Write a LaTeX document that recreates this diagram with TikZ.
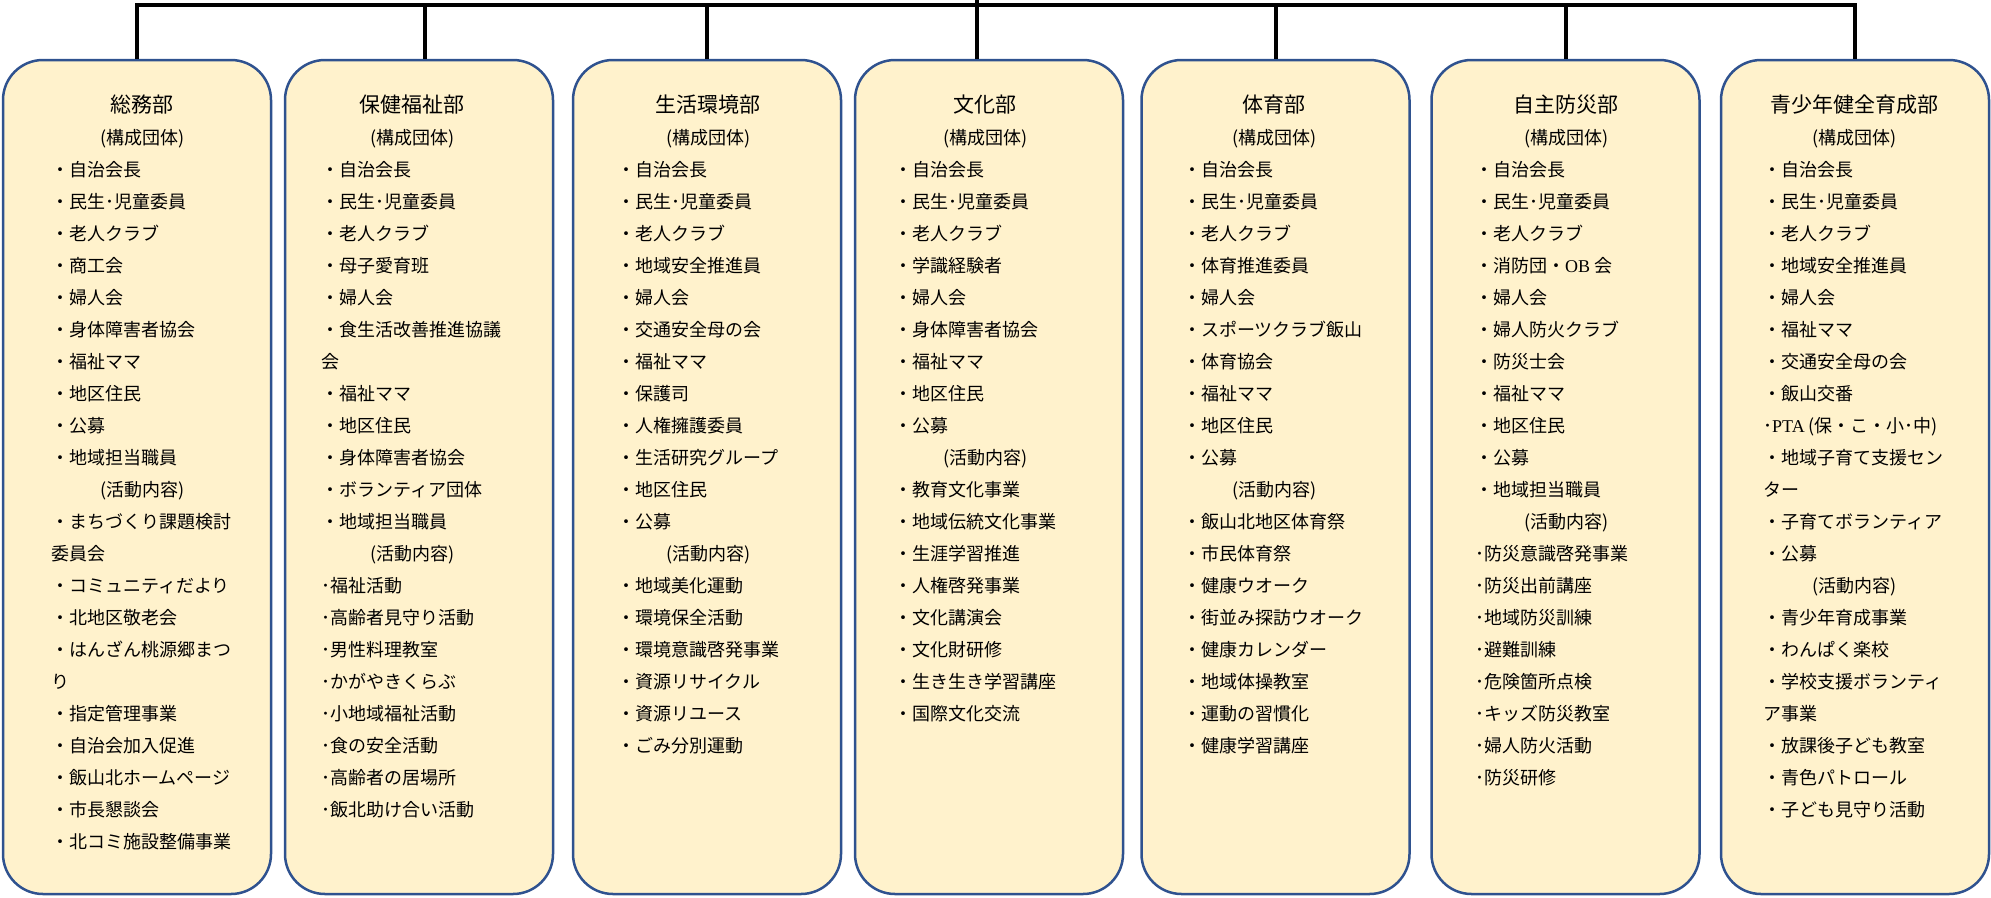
\documentclass[tikz,border=0pt]{standalone}
\usepackage{fontspec}
\setmainfont{Noto Sans CJK JP}
\newfontfamily\lat{Liberation Serif}
\usepackage{tikz}
\definecolor{boxblue}{HTML}{2F528F}
\definecolor{boxfill}{HTML}{FFF2CC}
\newcommand{\deptfont}{\fontsize{21pt}{32pt}\selectfont}
\newcommand{\midtitle}[1]{\makebox[182pt]{#1}}
\tikzset{
	dept/.style={draw=boxblue, fill=boxfill, line width=2.5pt, rounded corners=40pt, minimum width=268pt, minimum height=834pt, inner sep=0pt},
	wire/.style={line width=4pt, black},
	entry/.style={anchor=west, inner sep=0pt, font=\fontsize{18pt}{32pt}\selectfont, text height=15.8pt, text depth=2.2pt}
}

\begin{document}
\begin{tikzpicture}[x=1pt,y=-1pt]
			%%%%% START %%%%%
			\useasboundingbox (0,0) rectangle (1991,897);
			
			\node[dept] (somu) at (137,477) {};
			\node[dept] (hoken) at (419,477) {};
			\node[dept] (seikatsu) at (707,477) {};
			\node[dept] (bunka) at (989,477) {};
			\node[dept] (taiiku) at (1275.5,477) {};
			\node[dept] (bousai) at (1565.5,477) {};
			\node[dept] (seishonen) at (1855,477) {};
			
			\coordinate (bus) at (0,5);
			\coordinate (top) at (0,0);
			\draw[wire] (somu.north) |- (seishonen.north |- bus) -- (seishonen.north);
			\foreach \n in {seikatsu,taiiku,bousai}
				\draw[wire] (\n.north |- bus) -- (\n.north);
			\draw[wire] ([xshift=6pt]hoken.north |- bus) -- ([xshift=6pt]hoken.north);
			\draw[wire] ([xshift=-12pt]bunka.north |- top) -- ([xshift=-12pt]bunka.north);
			
			% 総務部
			\foreach \t [count=\i from 0] in {\midtitle{\deptfont 総務部}, \midtitle{(構成団体)},
				・自治会長, ・民生･児童委員, ・老人クラブ, ・商工会, ・婦人会, ・身体障害者協会, ・福祉ママ, ・地区住民, ・公募, ・地域担当職員,
				\midtitle{(活動内容)}, ・まちづくり課題検討, 委員会, ・コミュニティだより, ・北地区敬老会, ・はんざん桃源郷まつ, り,
				・指定管理事業, ・自治会加入促進, ・飯山北ホームページ, ・市長懇談会, ・北コミ施設整備事業}
				\node[entry] (somu-\i) at (51,{106+32*\i}) {\t};
			
			% 保健福祉部
			\foreach \t [count=\i from 0] in {\midtitle{\deptfont 保健福祉部}, \midtitle{(構成団体)},
				・自治会長, ・民生･児童委員, ・老人クラブ, ・母子愛育班, ・婦人会, ・食生活改善推進協議, 会, ・福祉ママ, ・地区住民,
				・身体障害者協会, ・ボランティア団体, ・地域担当職員,
				\midtitle{(活動内容)}, ･福祉活動, ･高齢者見守り活動, ･男性料理教室, ･かがやきくらぶ, ･小地域福祉活動, ･食の安全活動,
				･高齢者の居場所, ･飯北助け合い活動}
				\node[entry] (hoken-\i) at (321,{106+32*\i}) {\t};
			
			% 生活環境部
			\foreach \t [count=\i from 0] in {\midtitle{\deptfont 生活環境部}, \midtitle{(構成団体)},
				・自治会長, ・民生･児童委員, ・老人クラブ, ・地域安全推進員, ・婦人会, ・交通安全母の会, ・福祉ママ, ・保護司,
				・人権擁護委員, ・生活研究グループ, ・地区住民, ・公募,
				\midtitle{(活動内容)}, ・地域美化運動, ・環境保全活動, ・環境意識啓発事業, ・資源リサイクル, ・資源リユース, ・ごみ分別運動}
				\node[entry] (seikatsu-\i) at (617,{106+32*\i}) {\t};
			
			% 文化部
			\foreach \t [count=\i from 0] in {\midtitle{\deptfont 文化部}, \midtitle{(構成団体)},
				・自治会長, ・民生･児童委員, ・老人クラブ, ・学識経験者, ・婦人会, ・身体障害者協会, ・福祉ママ, ・地区住民, ・公募,
				\midtitle{(活動内容)}, ・教育文化事業, ・地域伝統文化事業, ・生涯学習推進, ・人権啓発事業, ・文化講演会, ・文化財研修,
				・生き生き学習講座, ・国際文化交流}
				\node[entry] (bunka-\i) at (894,{106+32*\i}) {\t};
			
			% 体育部
			\foreach \t [count=\i from 0] in {\midtitle{\deptfont 体育部}, \midtitle{(構成団体)},
				・自治会長, ・民生･児童委員, ・老人クラブ, ・体育推進委員, ・婦人会, ・スポーツクラブ飯山, ・体育協会, ・福祉ママ,
				・地区住民, ・公募,
				\midtitle{(活動内容)}, ・飯山北地区体育祭, ・市民体育祭, ・健康ウオーク, ・街並み探訪ウオーク, ・健康カレンダー,
				・地域体操教室, ・運動の習慣化, ・健康学習講座}
				\node[entry] (taiiku-\i) at (1183,{106+32*\i}) {\t};
			
			% 自主防災部
			\foreach \t [count=\i from 0] in {\midtitle{\deptfont 自主防災部}, \midtitle{(構成団体)},
				・自治会長, ・民生･児童委員, ・老人クラブ, ・消防団・{\lat OB} 会, ・婦人会, ・婦人防火クラブ, ・防災士会, ・福祉ママ,
				・地区住民, ・公募, ・地域担当職員,
				\midtitle{(活動内容)}, ･防災意識啓発事業, ･防災出前講座, ･地域防災訓練, ･避難訓練, ･危険箇所点検, ･キッズ防災教室,
				･婦人防火活動, ･防災研修}
				\node[entry] (bousai-\i) at (1475,{106+32*\i}) {\t};
			
			% 青少年健全育成部
			\foreach \t [count=\i from 0] in {\midtitle{\deptfont 青少年健全育成部}, \midtitle{(構成団体)},
				・自治会長, ・民生･児童委員, ・老人クラブ, ・地域安全推進員, ・婦人会, ・福祉ママ, ・交通安全母の会, ・飯山交番,
				･{\lat PTA} (保・こ・小･中), ・地域子育て支援セン, ター, ・子育てボランティア, ・公募,
				\midtitle{(活動内容)}, ・青少年育成事業, ・わんぱく楽校, ・学校支援ボランティ, ア事業, ・放課後子ども教室,
				・青色パトロール, ・子ども見守り活動}
				\node[entry] (seishonen-\i) at (1763,{106+32*\i}) {\t};
			%%%%% END %%%%%
		\end{tikzpicture}
\end{document}
